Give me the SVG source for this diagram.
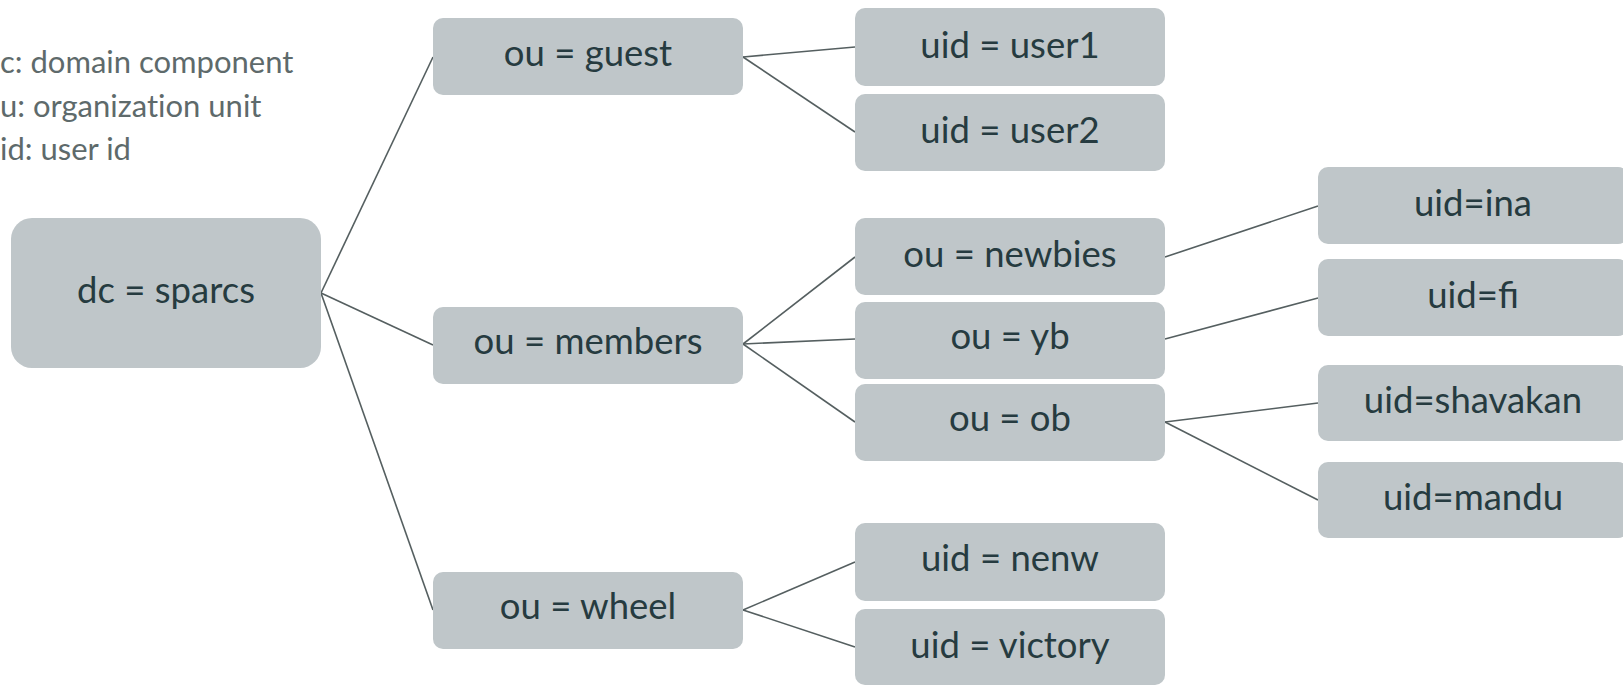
<svg xmlns="http://www.w3.org/2000/svg" width="1623" height="685" viewBox="0 0 1623 685">
<style>
.box{fill:#bfc6c9;}
.t{font-family:Lato,"Liberation Sans",sans-serif;font-size:36.5px;fill:#263b40;text-anchor:middle;}
.leg{font-family:Lato,"Liberation Sans",sans-serif;font-size:31px;fill:#5e6a6b;font-variant-ligatures:no-common-ligatures;}
.c line{stroke:#555f60;stroke-width:1.6;}
</style>
<rect width="1623" height="685" fill="#ffffff"/>
<g id="legend">
<text class="leg" x="0" y="73">c: domain component</text>
<text class="leg" x="0" y="117">u: organization unit</text>
<text class="leg" x="0" y="160">id: user id</text>
</g>
<g class="c" id="connectors">
<line x1="321" y1="293" x2="433" y2="57"/>
<line x1="321" y1="293" x2="433" y2="345"/>
<line x1="321" y1="293" x2="433" y2="610"/>
<line x1="743" y1="57" x2="855" y2="47"/>
<line x1="743" y1="57" x2="855" y2="132"/>
<line x1="743" y1="344" x2="855" y2="257"/>
<line x1="743" y1="344" x2="855" y2="339"/>
<line x1="743" y1="344" x2="855" y2="422"/>
<line x1="743" y1="610" x2="855" y2="562"/>
<line x1="743" y1="610" x2="855" y2="647"/>
<line x1="1165" y1="257" x2="1318" y2="206"/>
<line x1="1165" y1="339" x2="1318" y2="298"/>
<line x1="1165" y1="422" x2="1318" y2="403"/>
<line x1="1165" y1="422" x2="1318" y2="500"/>
</g>
<g id="dc"><rect class="box" x="11" y="218" width="310" height="150" rx="21"/><text class="t" x="166" y="303">dc = sparcs</text></g>
<g id="guest"><rect class="box" x="433" y="18" width="310" height="77" rx="10"/><text class="t" x="588" y="66">ou = guest</text></g>
<g id="members"><rect class="box" x="433" y="307" width="310" height="77" rx="10"/><text class="t" x="588" y="354">ou = members</text></g>
<g id="wheel"><rect class="box" x="433" y="572" width="310" height="77" rx="10"/><text class="t" x="588" y="619">ou = wheel</text></g>
<g id="user1"><rect class="box" x="855" y="8" width="310" height="78" rx="10"/><text class="t" x="1010" y="58">uid = user1</text></g>
<g id="user2"><rect class="box" x="855" y="94" width="310" height="77" rx="10"/><text class="t" x="1010" y="143">uid = user2</text></g>
<g id="newbies"><rect class="box" x="855" y="218" width="310" height="77" rx="10"/><text class="t" x="1010" y="267">ou = newbies</text></g>
<g id="yb"><rect class="box" x="855" y="302" width="310" height="77" rx="10"/><text class="t" x="1010" y="349">ou = yb</text></g>
<g id="ob"><rect class="box" x="855" y="384" width="310" height="77" rx="10"/><text class="t" x="1010" y="431">ou = ob</text></g>
<g id="nenw"><rect class="box" x="855" y="523" width="310" height="78" rx="10"/><text class="t" x="1010" y="571">uid = nenw</text></g>
<g id="victory"><rect class="box" x="855" y="609" width="310" height="76" rx="10"/><text class="t" x="1010" y="658">uid = victory</text></g>
<g id="ina"><rect class="box" x="1318" y="167" width="310" height="77" rx="10"/><text class="t" x="1473" y="216">uid=ina</text></g>
<g id="fi"><rect class="box" x="1318" y="259" width="310" height="77" rx="10"/><text class="t" x="1473" y="308">uid=fi</text></g>
<g id="shavakan"><rect class="box" x="1318" y="365" width="310" height="76" rx="10"/><text class="t" x="1473" y="413">uid=shavakan</text></g>
<g id="mandu"><rect class="box" x="1318" y="462" width="310" height="76" rx="10"/><text class="t" x="1473" y="510">uid=mandu</text></g>
</svg>
